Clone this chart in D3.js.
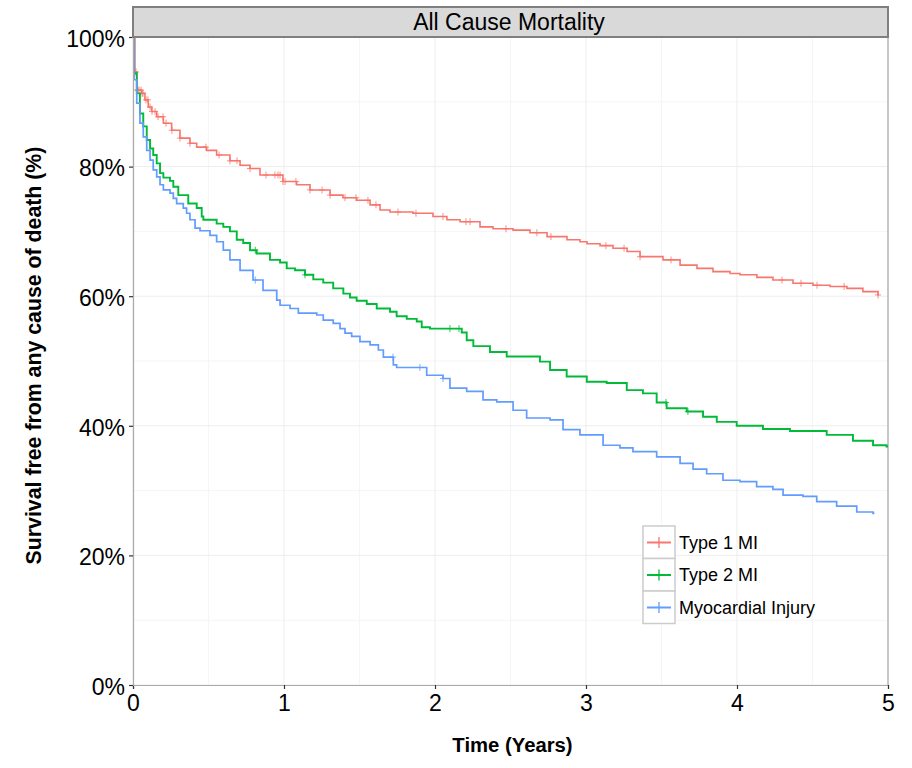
<!DOCTYPE html>
<html><head><meta charset="utf-8">
<script src="https://cdn.jsdelivr.net/npm/d3@7"></script>
<style>body{margin:0;background:#fff}svg{display:block;font-family:"Liberation Sans",Arial,sans-serif}</style>
</head><body><svg id="c" width="912" height="768"></svg>
<script>
const seriesNames = ["Type 1 MI", "Type 2 MI", "Myocardial Injury"];
const seriesColors = ["#F8766D", "#00BA38", "#619CFF"];
const xTicks = [0, 1, 2, 3, 4, 5];
const yTicks = [0, 20, 40, 60, 80, 100];
const yTickLabels = ["0%", "20%", "40%", "60%", "80%", "100%"];
const panelTitle = "All Cause Mortality";
const xTitle = "Time (Years)";
const yTitle = "Survival free from any cause of death (%)";

// [time (years), survival %]
const type1 = [[0,100],[0.013,94.6],[0.025,91.8],[0.058,91.3],[0.079,90.3],[0.101,89.2],[0.124,88.5],[0.157,87.7],[0.201,86.7],[0.256,85.6],[0.311,84.4],[0.377,83.6],[0.422,83.0],[0.488,82.5],[0.554,81.8],[0.642,80.9],[0.709,80.2],[0.775,79.7],[0.841,78.7],[0.993,77.7],[1.084,77.2],[1.172,76.4],[1.305,75.6],[1.391,75.2],[1.481,74.8],[1.57,74.1],[1.636,73.3],[1.702,73.0],[1.854,72.8],[1.987,72.3],[2.079,71.8],[2.166,71.5],[2.298,70.7],[2.384,70.4],[2.517,70.2],[2.629,69.8],[2.742,69.2],[2.874,68.7],[2.96,68.4],[3.007,68.1],[3.093,67.8],[3.179,67.4],[3.272,66.9],[3.358,66.1],[3.51,65.6],[3.623,64.8],[3.735,64.3],[3.841,63.8],[3.954,63.5],[4.02,63.3],[4.132,62.9],[4.238,62.5],[4.371,62.0],[4.503,61.7],[4.616,61.5],[4.728,61.2],[4.834,60.7],[4.934,60.2]];
const type1End = 4.94;
const type2 = [[0,100],[0.007,94.4],[0.025,91.3],[0.046,88.2],[0.068,86.2],[0.091,84.1],[0.113,82.8],[0.134,81.8],[0.157,80.5],[0.179,79.0],[0.201,78.3],[0.245,77.8],[0.267,76.9],[0.3,75.6],[0.366,74.3],[0.422,73.6],[0.455,72.3],[0.466,71.8],[0.554,71.2],[0.598,70.7],[0.642,70.0],[0.687,68.7],[0.73,68.2],[0.775,67.1],[0.819,66.6],[0.907,65.6],[0.974,65.2],[1.018,64.3],[1.073,64.0],[1.139,63.3],[1.194,62.6],[1.26,62.1],[1.326,61.2],[1.393,60.4],[1.437,59.8],[1.481,59.3],[1.548,58.8],[1.614,58.1],[1.702,57.6],[1.746,56.9],[1.813,56.5],[1.879,56.1],[1.912,55.2],[1.967,55.0],[2.177,54.4],[2.21,53.2],[2.254,52.3],[2.364,51.4],[2.475,50.7],[2.695,49.9],[2.762,48.6],[2.872,47.6],[3.005,46.8],[3.137,46.6],[3.27,45.5],[3.377,45.0],[3.468,43.6],[3.534,42.7],[3.667,42.2],[3.775,41.4],[3.866,40.6],[3.998,40.0],[4.172,39.5],[4.351,39.2],[4.594,38.6],[4.768,37.7],[4.901,37.0],[4.99,36.8]];
const type2End = 5.0;
const injury = [[0,100],[0.007,93.4],[0.025,89.8],[0.046,86.7],[0.068,84.6],[0.091,82.5],[0.113,81.0],[0.134,79.5],[0.157,78.4],[0.179,77.2],[0.201,76.4],[0.245,75.9],[0.267,75.1],[0.289,74.3],[0.333,73.6],[0.355,72.8],[0.377,71.8],[0.411,70.5],[0.444,70.1],[0.51,69.4],[0.554,68.4],[0.598,67.1],[0.642,65.6],[0.709,64.0],[0.795,62.5],[0.861,60.9],[0.952,59.4],[0.974,58.6],[1.04,58.1],[1.095,57.4],[1.217,57.1],[1.26,56.3],[1.326,55.8],[1.371,55.0],[1.404,54.3],[1.448,53.8],[1.503,53.0],[1.57,52.5],[1.625,51.7],[1.658,50.6],[1.724,49.4],[1.746,49.0],[1.945,47.8],[2.053,47.3],[2.099,45.8],[2.21,45.3],[2.318,44.0],[2.409,43.7],[2.517,42.4],[2.607,41.2],[2.762,40.9],[2.848,39.4],[2.96,38.6],[3.113,37.0],[3.225,36.6],[3.311,36.0],[3.468,35.2],[3.623,34.2],[3.709,33.3],[3.799,32.6],[3.907,31.6],[4.02,31.4],[4.13,30.6],[4.238,30.2],[4.305,29.3],[4.437,29.1],[4.528,28.3],[4.66,27.6],[4.793,26.7],[4.901,26.5]];
const injuryEnd = 4.91;

const type1Censor = [0.007,0.013,0.02,0.026,0.033,0.04,0.053,0.06,0.066,0.086,0.099,0.113,0.126,0.146,0.166,0.199,0.219,0.258,0.311,0.377,0.483,0.57,0.642,0.689,0.775,0.881,0.94,0.96,0.974,0.993,1.007,1.079,1.172,1.252,1.305,1.404,1.477,1.556,1.609,1.755,1.874,2.053,2.205,2.232,2.47,2.675,2.768,3.132,3.252,3.358,3.563,4.298,4.424,4.53,4.709,4.934];
const type2Censor = [0.81,1.139,2.099,2.159,3.53,3.675];
const injuryCensor = [0.81,1.722,1.9,2.053];

const series = [
  {name: seriesNames[0], color: seriesColors[0], pts: type1, end: type1End, censor: type1Censor, w: 1.6},
  {name: seriesNames[1], color: seriesColors[1], pts: type2, end: type2End, censor: type2Censor, w: 1.9},
  {name: seriesNames[2], color: seriesColors[2], pts: injury, end: injuryEnd, censor: injuryCensor, w: 1.7}
];

const L = 133, R = 888, T = 37, B = 685;
const svg = d3.select("#c");
const x = d3.scaleLinear().domain([0,5]).range([L,R]);
const y = d3.scaleLinear().domain([0,100]).range([B,T]);

// gridlines
const g = svg.append("g");
d3.range(0.5,5,1).forEach(v=>g.append("line").attr("x1",x(v)).attr("x2",x(v)).attr("y1",T).attr("y2",B).attr("stroke","#f5f5f5").attr("stroke-width",1));
d3.range(10,100,20).forEach(v=>g.append("line").attr("y1",y(v)).attr("y2",y(v)).attr("x1",L).attr("x2",R).attr("stroke","#f5f5f5").attr("stroke-width",1));
xTicks.forEach(v=>g.append("line").attr("x1",x(v)).attr("x2",x(v)).attr("y1",T).attr("y2",B).attr("stroke","#ededed").attr("stroke-width",1));
yTicks.forEach(v=>g.append("line").attr("y1",y(v)).attr("y2",y(v)).attr("x1",L).attr("x2",R).attr("stroke","#ededed").attr("stroke-width",1));

// right border
svg.append("line").attr("x1",R).attr("x2",R).attr("y1",T).attr("y2",B).attr("stroke","#aaaaaa").attr("stroke-width",1.2);

// curves
svg.append("clipPath").attr("id","pc").append("rect").attr("x",L).attr("y",T-2).attr("width",R-L+1).attr("height",B-T+4);
const line = d3.line().x(d=>x(d[0])).y(d=>y(d[1])).curve(d3.curveStepAfter);
function survAt(pts,t){let s=pts[0][1];for(const p of pts){if(p[0]<=t)s=p[1];else break;}return s;}
const cg = svg.append("g").attr("clip-path","url(#pc)");
series.forEach(s=>{
  const pts = s.pts.concat([[s.end, s.pts[s.pts.length-1][1]]]);
  cg.append("path").attr("d",line(pts)).attr("fill","none").attr("stroke",s.color).attr("stroke-width",s.w);
  s.censor.forEach(t=>{
    const cx=x(t), cy=y(survAt(s.pts,t));
    cg.append("path").attr("d",`M${cx-3},${cy}H${cx+3}M${cx},${cy-3.5}V${cy+3.5}`).attr("stroke",s.color).attr("stroke-width",1).attr("opacity",0.8);
  });
});

// axes
const xa = svg.append("g").attr("transform",`translate(0,${B})`).call(d3.axisBottom(x).tickValues(xTicks).tickSize(4).tickPadding(5).tickFormat(d3.format("d")));
const ya = svg.append("g").attr("transform",`translate(${L},0)`).call(d3.axisLeft(y).tickValues(yTicks).tickSize(4).tickPadding(4).tickFormat((d,i)=>yTickLabels[i]));
[xa,ya].forEach(a=>{a.select(".domain").attr("stroke","#aaaaaa").attr("stroke-width",1.2);a.selectAll(".tick line").attr("stroke","#333").attr("stroke-width",1.2);a.selectAll("text").attr("fill","#000").style("font-family","Liberation Sans, Arial, sans-serif").style("font-size","23px");});
ya.selectAll("text").attr("dy","0.4em");
xa.selectAll("text").attr("dy","0.76em");

// strip
svg.append("rect").attr("x",L).attr("y",7).attr("width",R-L).attr("height",T-7).attr("fill","#d9d9d9").attr("stroke","#7f7f7f").attr("stroke-width",2);
svg.append("text").attr("x",509).attr("y",30).attr("text-anchor","middle").style("font-size","23px").attr("fill","#000").text(panelTitle);

// titles
svg.append("text").attr("x",(L+R)/2+2).attr("y",752).attr("text-anchor","middle").style("font-size","20.3px").style("font-weight","bold").text(xTitle);
svg.append("text").attr("transform",`translate(41,${(148+563)/2}) rotate(-90)`).attr("text-anchor","middle").style("font-size","21.3px").style("font-weight","bold").text(yTitle);

// legend
const lg = svg.append("g").attr("transform","translate(643,526)");
series.forEach((s,i)=>{
  const gy = i*32.5;
  lg.append("rect").attr("x",0).attr("y",gy).attr("width",32).attr("height",32.5).attr("fill","#fff").attr("stroke","#cccccc").attr("stroke-width",1.5);
  lg.append("line").attr("x1",4).attr("x2",28).attr("y1",gy+16.5).attr("y2",gy+16.5).attr("stroke",s.color).attr("stroke-width",2);
  lg.append("line").attr("x1",16).attr("x2",16).attr("y1",gy+11).attr("y2",gy+22).attr("stroke",s.color).attr("stroke-width",1.3);
  lg.append("text").attr("x",36).attr("y",gy+16.5).attr("dy","0.36em").style("font-size","18px").attr("fill","#000").text(s.name);
});
</script></body></html>
